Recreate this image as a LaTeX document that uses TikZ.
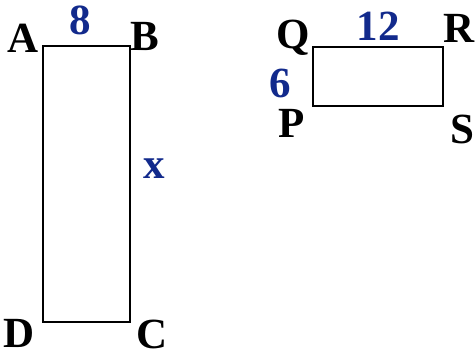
\documentclass[tikz,border=0pt]{standalone}
\usepackage{fontspec}
\setmainfont{Liberation Serif}
\definecolor{numblue}{RGB}{18,42,140}
\tikzset{
  lbl/.style={anchor=base,inner sep=0pt,font=\fontsize{43}{45}\selectfont\bfseries},
  num/.style={lbl,text=numblue},
  edge/.style={line width=2.2pt,line join=miter}
}
\begin{document}
\begin{tikzpicture}[x=1pt,y=-1pt]
\useasboundingbox (0,0) rectangle (475,354);
% left rectangle
\coordinate (a) at (43,46);
\coordinate (b) at (130,46);
\coordinate (c) at (130,322);
\coordinate (d) at (43,322);
\draw[edge] (a) -- (b) -- (c) -- (d) -- cycle;
% right rectangle
\coordinate (q) at (313,47);
\coordinate (r) at (443,47);
\coordinate (s) at (443,106);
\coordinate (p) at (313,106);
\draw[edge] (q) -- (r) -- (s) -- (p) -- cycle;
% labels
\node[lbl] (A) at (23.5,52) {A};
\node[num] (eight) at (80,34) {8};
\node[lbl] (B) at (145,50) {B};
\node[num] (xx) at (154,178) {x};
\node[lbl] (D) at (19,347) {D};
\node[lbl] (C) at (152,348) {C};
\node[lbl] (Q) at (293,48) {Q};
\node[num] (twelve) at (378,40) {12};
\node[lbl] (R) at (459,42) {R};
\node[num] (six) at (280,97) {6};
\node[lbl] (P) at (292,137) {P};
\node[lbl] (S) at (462,143) {S};
\end{tikzpicture}
\end{document}
